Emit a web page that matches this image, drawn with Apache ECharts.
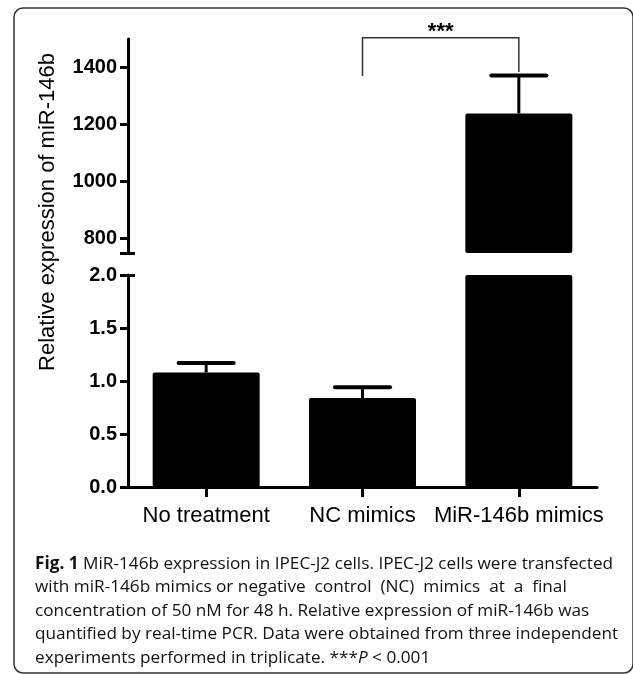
<!DOCTYPE html>
<html><head><meta charset="utf-8">
<script src="https://cdn.jsdelivr.net/npm/echarts@6/dist/echarts.min.js"></script>
<style>html,body{margin:0;padding:0;background:#fff}#c{width:633px;height:674px}</style>
</head><body><div id="c"></div>
<script>
// ---- data ----
const categories = ['No treatment', 'NC mimics', 'MiR-146b mimics'];
const meanValues = [1.08, 0.84, 1239];
const errorTops = [1.17, 0.94, 1372];
const lowerTickValues = [0, 0.5, 1.0, 1.5, 2.0];
const upperTickValues = [800, 1000, 1200, 1400];
const lowerRange = [0, 2];
const upperRange = [750, 1500];
const sigPair = [1, 2];
const sigLegEnds = [1370, 1384];
const sigTop = 1504;
const sigLabel = '***';
const yAxisTitle = 'Relative expression of miR-146b';
const captionLines = [
  ['{b|Fig. 1} MiR-146b expression in IPEC-J2 cells. IPEC-J2 cells were transfected'],
  ['with miR-146b mimics or negative  control  (NC)  mimics  at  a  final'],
  ['concentration of 50 nM for 48 h. Relative expression of miR-146b was'],
  ['quantified by real-time PCR. Data were obtained from three independent'],
  ['experiments performed in triplicate. ***{i|P} < 0.001']
];

// ---- layout helpers ----
const FONT = '"Liberation Sans", Arial, sans-serif';
const CAP_FONT = '"Open Sans", "Noto Sans", sans-serif';
const meas = document.createElement('canvas').getContext('2d');
meas.font = '100px "Open Sans"';
const capSize = Math.round(100 * 582 / meas.measureText(captionLines[3][0]).width * 10) / 10;

const errData = categories.map((c, i) => [i, meanValues[i], errorTops[i]]);

function errorRender(params, api) {
  const x = api.value(0);
  const p0 = api.coord([x, api.value(1)]);
  const p1 = api.coord([x, api.value(2)]);
  const half = api.size([1, 0])[0] * 0.176;
  return {
    type: 'group',
    children: [
      { type: 'line', shape: { x1: p0[0], y1: p0[1], x2: p1[0], y2: p1[1] }, style: { stroke: '#000', lineWidth: 3 } },
      { type: 'line', shape: { x1: p1[0] - half, y1: p1[1], x2: p1[0] + half, y2: p1[1] }, style: { stroke: '#000', lineWidth: 4, lineCap: 'round' } }
    ]
  };
}

function bracketRender(params, api) {
  const a = api.coord([api.value(0), api.value(2)]);
  const b = api.coord([api.value(0), api.value(4)]);
  const c = api.coord([api.value(1), api.value(4)]);
  const d = api.coord([api.value(1), api.value(3)]);
  return {
    type: 'group',
    children: [
      { type: 'polyline', shape: { points: [a, b, c, d] }, style: { stroke: '#333', lineWidth: 1.5, fill: null } },
      { type: 'text', x: (b[0] + c[0]) / 2, y: b[1] + 5, style: { text: sigLabel, align: 'center', verticalAlign: 'bottom', fontSize: 22, fontWeight: 'bold', fontFamily: FONT, fill: '#000' } }
    ]
  };
}

const axisLineStyle = { color: '#000', width: 3 };
const tickLabel = { color: '#000', fontFamily: FONT, fontWeight: 'bold', fontSize: 20, margin: 11 };

const graphics = [
  { type: 'rect', shape: { x: 14, y: 8, width: 619, height: 665, r: 9 }, style: { fill: null, stroke: '#333', lineWidth: 1.5 }, silent: true },
  { type: 'text', x: 48, y: 212, rotation: Math.PI / 2, style: { text: yAxisTitle, align: 'center', verticalAlign: 'middle', fontSize: 22, fontFamily: FONT, fill: '#000' } }
];
const capY = [564, 587.5, 611, 634.5, 658];
captionLines.forEach((ln, i) => {
  graphics.push({
    type: 'text', x: 35, y: capY[i],
    style: {
      text: ln[0], align: 'left', verticalAlign: 'middle', fontSize: capSize, fontFamily: CAP_FONT, fill: '#111',
      rich: {
        b: { fontSize: capSize, fontFamily: CAP_FONT, fontWeight: 'bold', fill: '#111' },
        i: { fontSize: capSize, fontFamily: CAP_FONT, fontStyle: 'italic', fill: '#111' }
      }
    }
  });
});

const option = {
  animation: false,
  backgroundColor: '#fff',
  grid: [
    { left: 128, right: 36, top: 39, height: 214 },
    { left: 128, right: 36, top: 275, height: 212 }
  ],
  xAxis: [
    { type: 'category', gridIndex: 0, data: categories, show: false },
    { type: 'category', gridIndex: 1, data: categories,
      axisLine: { lineStyle: axisLineStyle },
      axisTick: { show: true, alignWithLabel: true, interval: 0, length: 10, lineStyle: { color: '#000', width: 3 } },
      axisLabel: { interval: 0, color: '#000', fontFamily: FONT, fontSize: 22, margin: 18, hideOverlap: false } }
  ],
  yAxis: [
    { type: 'value', gridIndex: 0, position: 'left', min: upperRange[0], max: upperRange[1],
      axisLine: { show: true, lineStyle: axisLineStyle },
      axisTick: { show: true, length: 8, lineStyle: { color: '#000', width: 3 }, customValues: [upperRange[0]].concat(upperTickValues) },
      axisLabel: Object.assign({ customValues: upperTickValues, formatter: v => String(v) }, tickLabel),
      splitLine: { show: false } },
    { type: 'value', gridIndex: 1, position: 'left', min: lowerRange[0], max: lowerRange[1], interval: 0.5,
      axisLine: { show: true, lineStyle: axisLineStyle },
      axisTick: { show: true, length: 8, lineStyle: { color: '#000', width: 3 } },
      axisLabel: Object.assign({ formatter: v => v.toFixed(1) }, tickLabel),
      splitLine: { show: false } },
    { type: 'value', gridIndex: 0, position: 'left', offset: 0, min: upperRange[0], max: upperRange[1],
      axisLine: { show: false },
      axisTick: { show: true, inside: true, length: 7, lineStyle: { color: '#000', width: 3 }, customValues: [upperRange[0]] },
      axisLabel: { show: false }, splitLine: { show: false } },
    { type: 'value', gridIndex: 1, position: 'left', offset: 0, min: lowerRange[0], max: lowerRange[1],
      axisLine: { show: false },
      axisTick: { show: true, inside: true, length: 7, lineStyle: { color: '#000', width: 3 }, customValues: [lowerRange[1]] },
      axisLabel: { show: false }, splitLine: { show: false } }
  ],
  series: [
    { type: 'bar', xAxisIndex: 0, yAxisIndex: 0, data: meanValues, barWidth: 107, clip: true,
      itemStyle: { color: '#000', borderRadius: 2 } },
    { type: 'bar', xAxisIndex: 1, yAxisIndex: 1, data: meanValues, barWidth: 107, clip: true,
      itemStyle: { color: '#000', borderRadius: 2 } },
    { type: 'custom', xAxisIndex: 0, yAxisIndex: 0, data: errData, renderItem: errorRender, clip: true, z: 3 },
    { type: 'custom', xAxisIndex: 1, yAxisIndex: 1, data: errData, renderItem: errorRender, clip: true, z: 3 },
    { type: 'custom', xAxisIndex: 0, yAxisIndex: 0, data: [[sigPair[0], sigPair[1], sigLegEnds[0], sigLegEnds[1], sigTop]],
      renderItem: bracketRender, clip: false, z: 4 }
  ],
  graphic: graphics
};

const chart = echarts.init(document.getElementById('c'), null, { renderer: 'canvas' });
chart.setOption(option);
</script>
</body></html>
